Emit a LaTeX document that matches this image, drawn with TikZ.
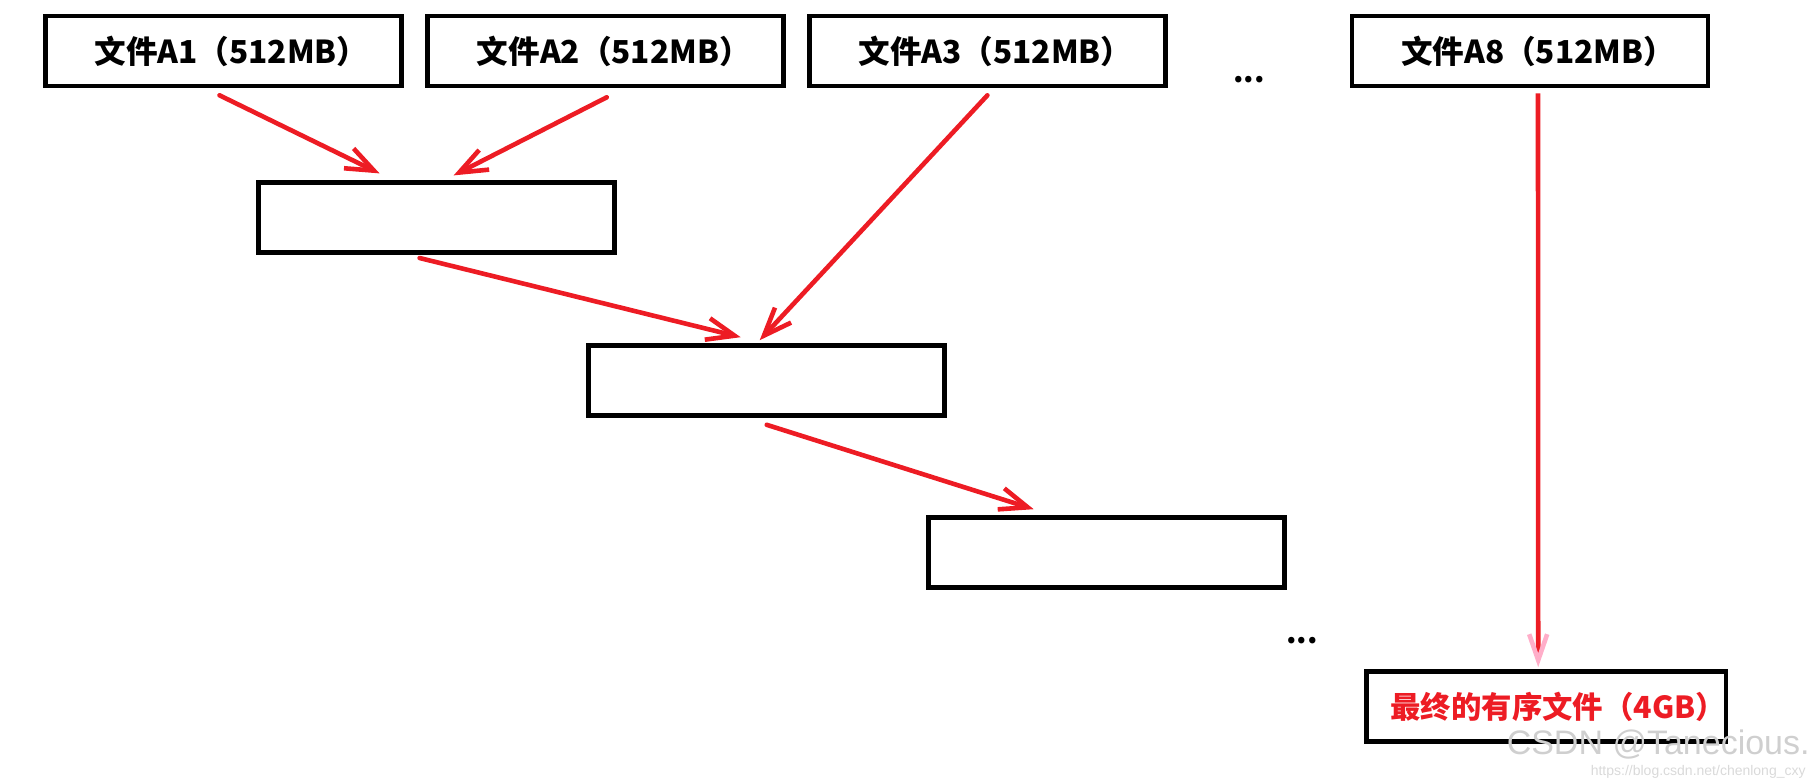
\documentclass[tikz,border=0pt]{standalone}
\usepackage{fontspec}
\newfontfamily\cjk{Noto Sans CJK SC}
\usetikzlibrary{arrows.meta,calc}
\definecolor{pred}{RGB}{237,28,36}
\definecolor{ppink}{RGB}{255,174,201}
\begin{document}
\begin{tikzpicture}[x=0.5pt,y=-0.5pt,
  fbox/.style={draw=black,line width=2.3pt,minimum width=178pt,minimum height=35pt,inner sep=0pt,
    font=\cjk\bfseries\fontsize{15.8pt}{18pt}\selectfont},
  rarr/.style={draw=pred,line width=2.3pt,line cap=round,-{Straight Barb[length=14pt,width=11pt,line width=2.3pt]}},
  parr/.style={draw=pred,line width=2.3pt,-{Straight Barb[length=13pt,width=9pt,line width=2.3pt,color=ppink]}},
  dots/.style={font=\cjk\bfseries\fontsize{15pt}{18pt}\selectfont,inner sep=0pt}]
\useasboundingbox (0,0) rectangle (1816,777);
\node[fbox] (A1) at (223.5,51) {\hspace*{8pt}文件A1（512MB）};
\node[fbox] (A2) at (605.75,51) {\hspace*{8pt}文件A2（512MB）};
\node[fbox] (A3) at (987.4,51) {\hspace*{8pt}文件A3（512MB）};
\node[fbox] (A8) at (1530,51) {\hspace*{8pt}文件A8（512MB）};
\node[fbox] (B1) at (436.6,217.7) {};
\node[fbox] (B2) at (766.7,380.5) {};
\node[fbox] (B3) at (1106.7,552.5) {};
\node[fbox,text=pred,font=\cjk\bfseries\fontsize{15.2pt}{18pt}\selectfont] (F) at (1546.2,706.5) {\hspace*{12pt}最终的有序文件（4GB）};
\node[dots] (d1) at (1249,80) {...};
\node[dots] (d2) at (1302,641) {...};
\draw[rarr] ($(A1.south)+(-4,7)$) -- ($(B1.north)+(-57,-7)$);
\draw[rarr] ($(A2.south)+(1,9)$) -- ($(B1.north)+(17,-5)$);
\draw[rarr] ($(A3.south)+(0,7)$) -- ($(B2.north)+(-7,-3)$);
\draw[rarr] ($(B1.south)+(-17,3)$) -- ($(B2.north)+(-26,-6)$);
\draw[rarr] ($(B2.south)+(0,7)$) -- ($(B3.north)+(-73,-6)$);
\draw[parr] ($(A8.south)+(8,5)$) -- ($(F.north)+(-8,-2)$);
\node[text=gray!38,font=\fontspec{Liberation Sans}\fontsize{17pt}{20pt}\selectfont,inner sep=0pt,anchor=east] (wm) at (1810,745) {CSDN @Tanecious.};
\node[text=gray!30,font=\fontspec{Liberation Sans}\fontsize{7pt}{8pt}\selectfont,inner sep=0pt,anchor=east] (wu) at (1806,772) {https://blog.csdn.net/chenlong\_cxy};
\end{tikzpicture}
\end{document}
